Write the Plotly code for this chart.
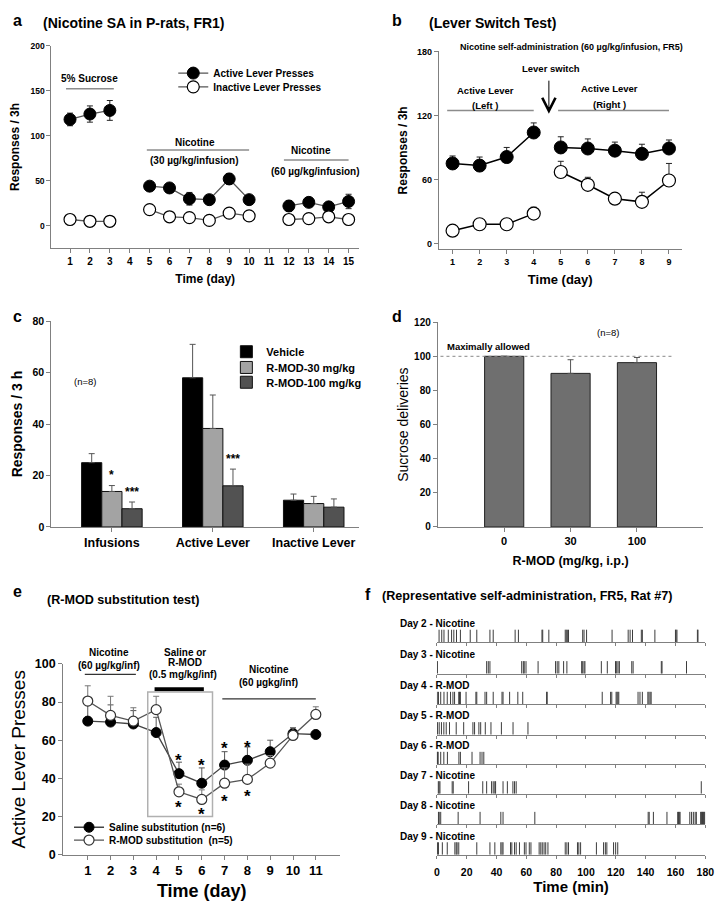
import plotly.graph_objects as go

W, H = 724, 906
OFF = 8  # page body margin: figure is drawn 8 px right/down on screen
FONT = "Liberation Sans, Arial, sans-serif"

# ---------------- data ----------------
# panel a
days_a = list(range(1, 16))
active_a = [118, 124, 128, None, 44, 42, 30, 29, 52, 29, None, 22, 26, 21, 27]
active_a_err = [7, 9, 11, 0, 3, 3, 7, 3, 6, 3, 0, 6, 3, 3, 8]
inactive_a = [7, 5, 5, None, 18, 10, 9, 6, 14, 11, None, 7, 8, 10, 7]
inactive_a_err = [2, 1, 1, 0, 2, 2, 2, 1, 4, 2, 0, 1, 2, 2, 2]

# panel b
days_b = [1, 2, 3, 4, 5, 6, 7, 8, 9]
active_b = [75, 73, 81, 104, 90, 89, 87, 84, 89]
active_b_err = [7, 8, 9, 9, 10, 9, 8, 9, 8]
inactive_b = [12, 18, 18, 28, 67, 55, 42, 39, 59]
inactive_b_err = [2, 2, 2, 6, 10, 7, 3, 9, 16]

# panel c
cats_c = ["Infusions", "Active Lever", "Inactive Lever"]
vehicle_c = [25, 58, 10.4]
vehicle_c_err = [3.5, 13, 2.4]
rmod30_c = [13.8, 38.3, 9.1]
rmod30_c_err = [2.3, 13, 2.8]
rmod100_c = [7.1, 16, 7.7]
rmod100_c_err = [2.6, 6.5, 3.2]

# panel d
cats_d = ["0", "30", "100"]
sucrose_d = [100, 90, 96.3]
sucrose_d_err = [0, 8, 3]

# panel e
days_e = list(range(1, 12))
saline_e = [70, 69.5, 68.5, 64, 42.5, 37.5, 47, 49.5, 54, 63.5, 63]
saline_e_err = [10, 9, 7, 8, 6, 8, 7, 7, 6, 3, 0]
rmod_e = [80.5, 73, 70, 76, 33, 29, 37.5, 39.5, 48, 62.5, 73.5]
rmod_e_err = [8, 10, 7, 7, 4, 5, 8, 8, 4, 4, 4]

# panel f (event times, min)
f_labels = ["Day 2 - Nicotine", "Day 3 - Nicotine", "Day 4 - R-MOD", "Day 5 - R-MOD",
            "Day 6 - R-MOD", "Day 7 - Nicotine", "Day 8 - Nicotine", "Day 9 - Nicotine"]
f_events = [
    [1.5, 3.3, 4.8, 7.7, 9.9, 11.4, 13.2, 15.8, 22.4, 26.8, 35.6, 37.8, 52.5, 54.7, 70.5, 71.0,
     75.1, 86.1, 86.8, 87.5, 88.3, 97.8, 98.7, 100.4, 117.5, 128.3, 129.6, 131.2, 137.1, 137.8,
     146.2, 160.0, 160.4, 161.0, 174.7, 175.1],
    [0.4, 33.4, 34.5, 35.6, 56.9, 58.0, 58.6, 59.8, 67.9, 79.6, 80.7, 81.8, 85.0, 87.2, 97.1,
     97.8, 98.7, 99.3, 110.3, 114.3, 119.8, 120.6, 121.5, 122.4, 130.7, 131.6, 150.5, 151.0, 167.4],
    [0.3, 1.1, 2.6, 4.8, 7.0, 9.2, 10.8, 11.9, 14.7, 15.2, 15.8, 19.6, 26.2, 26.8, 32.3, 33.4,
     37.8, 43.7, 44.4, 48.8, 54.3, 57.6, 73.6, 74.0, 110.9, 116.5, 117.3, 120.2, 120.8, 121.4,
     122.0, 134.9, 136.2, 137.8, 141.5, 142.2, 143.0, 143.7],
    [0.5, 1.6, 3.1, 4.7, 6.3, 8.5, 13.0, 18.0, 24.2, 25.3, 28.2, 29.4, 32.5, 36.3, 43.3, 51.1, 61.1],
    [0.1, 0.5, 0.9, 2.6, 4.7, 7.1, 14.8, 15.8, 23.6, 29.0, 30.3, 31.5],
    [1.0, 1.5, 2.1, 10.3, 11.0, 21.3, 30.8, 33.4, 36.7, 37.8, 38.9, 39.4, 44.4, 47.3, 51.0,
     52.1, 53.2, 177.3],
    [1.1, 1.6, 2.6, 14.3, 29.0, 42.9, 44.4, 65.7, 141.7, 142.4, 145.2, 154.3, 161.5, 162.0,
     162.6, 163.1, 169.6, 170.8, 172.0, 173.2, 174.0, 176.9, 177.3, 177.7, 178.1, 178.5, 178.9,
     179.3, 179.7],
    [0.4, 1.1, 3.7, 7.0, 12.1, 13.0, 13.6, 14.7, 26.8, 35.6, 38.9, 42.9, 43.7, 44.4, 49.4, 50.3,
     52.1, 53.2, 55.4, 58.7, 59.8, 62.0, 63.1, 68.6, 69.7, 70.7, 71.9, 73.0, 74.5, 86.1, 87.2,
     88.3, 94.3, 95.2, 96.4, 107.0, 111.8, 113.0, 114.0, 118.5, 119.9, 121.3],
]
f_ticks = list(range(0, 181, 20))


# ---------------- helpers (screen pixel -> paper) ----------------
def dx(a, b):
    return [(a - OFF) / W, (b - OFF) / W]


def dy(top, bot):
    return [1 - (bot - OFF) / H, 1 - (top - OFF) / H]


def px(x):
    return (x - OFF) / W


def py(y):
    return 1 - (y - OFF) / H


def fnt(size, bold=True, color="black"):
    return dict(family=FONT, size=size, color=color, weight="bold" if bold else "normal")


AXC = "#808080"


def ax(domain, anchor, rng, tickvals=None, tfs=10, title=None, tsize=12, tbold=True,
       standoff=6, ticklen=4, showticklabels=True, ctype=None, tls=None):
    d = dict(domain=domain, anchor=anchor, range=rng, showline=True, linecolor=AXC, linewidth=1,
             ticks="outside", tickcolor=AXC, ticklen=ticklen, showgrid=False, zeroline=False,
             tickfont=fnt(tfs), showticklabels=showticklabels, fixedrange=True)
    if tickvals is not None:
        d["tickvals"] = tickvals
    if ctype:
        d["type"] = ctype
    if tls is not None:
        d["ticklabelstandoff"] = tls
    if title:
        d["title"] = dict(text=title, font=fnt(tsize, tbold), standoff=standoff)
    return d


fig = go.Figure()

# ---------------- panel a ----------------
fig.add_trace(go.Scatter(
    x=days_a, y=active_a, mode="lines+markers", name="Active Lever Presses",
    line=dict(color="#555", width=1.3),
    marker=dict(size=12, color="black", line=dict(color="black", width=1)),
    error_y=dict(type="data", array=active_a_err, color="#222", thickness=1, width=3),
    xaxis="x", yaxis="y", legend="legend"))
fig.add_trace(go.Scatter(
    x=days_a, y=inactive_a, mode="lines+markers", name="Inactive Lever Presses",
    line=dict(color="#555", width=1.3),
    marker=dict(size=12, color="white", line=dict(color="black", width=1.2)),
    error_y=dict(type="data", array=inactive_a_err, color="#222", thickness=1, width=3),
    xaxis="x", yaxis="y", legend="legend4"))

# ---------------- panel b ----------------
for sl in (slice(0, 4), slice(4, 9)):
    fig.add_trace(go.Scatter(
        x=days_b[sl], y=active_b[sl], mode="lines+markers", showlegend=False,
        line=dict(color="black", width=1.5),
        marker=dict(size=13, color="black", line=dict(color="black", width=1)),
        error_y=dict(type="data", symmetric=False, array=active_b_err[sl],
                     arrayminus=[0] * len(active_b_err[sl]), color="#222", thickness=1, width=3),
        xaxis="x2", yaxis="y2"))
    fig.add_trace(go.Scatter(
        x=days_b[sl], y=inactive_b[sl], mode="lines+markers", showlegend=False,
        line=dict(color="black", width=1.5),
        marker=dict(size=13, color="white", line=dict(color="black", width=1.2)),
        error_y=dict(type="data", symmetric=False, array=inactive_b_err[sl],
                     arrayminus=[0] * len(inactive_b_err[sl]), color="#222", thickness=1, width=3),
        xaxis="x2", yaxis="y2"))

# ---------------- panel c ----------------
for name, vals, errs, col, lg in (("Vehicle", vehicle_c, vehicle_c_err, "#000000", "legend2"),
                                  ("R-MOD-30 mg/kg", rmod30_c, rmod30_c_err, "#a3a3a3", "legend5"),
                                  ("R-MOD-100 mg/kg", rmod100_c, rmod100_c_err, "#525252", "legend6")):
    fig.add_trace(go.Bar(
        x=cats_c, y=vals, name=name, marker=dict(color=col, line=dict(color="#111", width=1)),
        error_y=dict(type="data", symmetric=False, array=errs, arrayminus=[0] * len(errs),
                     color="#555", thickness=1, width=3),
        xaxis="x3", yaxis="y3", legend=lg))

# ---------------- panel d ----------------
fig.add_trace(go.Bar(
    x=cats_d, y=sucrose_d, showlegend=False, width=0.59,
    marker=dict(color="#6f6f6f", line=dict(color="#222", width=1)),
    error_y=dict(type="data", symmetric=False, array=sucrose_d_err, arrayminus=[0] * 3,
                 color="#555", thickness=1, width=3),
    xaxis="x4", yaxis="y4"))

# ---------------- panel e ----------------
fig.add_trace(go.Scatter(
    x=days_e, y=saline_e, mode="lines+markers", name="Saline substitution (n=6)",
    line=dict(color="#444", width=1.3),
    marker=dict(size=10, color="black", line=dict(color="black", width=1)),
    error_y=dict(type="data", symmetric=False, array=saline_e_err, arrayminus=[0] * 11,
                 color="#555", thickness=1, width=3),
    xaxis="x5", yaxis="y5", legend="legend3"))
fig.add_trace(go.Scatter(
    x=days_e, y=rmod_e, mode="lines+markers", name="R-MOD substitution  (n=5)",
    line=dict(color="#555", width=1.3),
    marker=dict(size=10, color="white", line=dict(color="#333", width=1.2)),
    error_y=dict(type="data", symmetric=False, array=rmod_e_err, arrayminus=[0] * 11,
                 color="#777", thickness=1, width=3),
    xaxis="x5", yaxis="y5", legend="legend7"))

# ---------------- panel f ----------------
f_base = [645, 677, 708, 739, 769, 799, 830, 861]
for i, ev in enumerate(f_events):
    xs, ys = [], []
    for t in ev:
        xs += [t, t, None]
        ys += [0, 1, None]
    k = 6 + i
    fig.add_trace(go.Scatter(x=xs, y=ys, mode="lines", showlegend=False,
                             line=dict(color="#3c3c3c", width=1),
                             xaxis=f"x{k}", yaxis=f"y{k}", hoverinfo="skip"))

# ---------------- layout ----------------
layout = dict(
    width=W, height=H, margin=dict(l=0, r=0, t=0, b=0), autosize=False,
    paper_bgcolor="white", plot_bgcolor="white",
    barmode="group", bargap=0.4, bargroupgap=0,
    font=dict(family=FONT, color="black"),
    showlegend=True,
)

# a
layout["xaxis"] = ax(dx(49, 362), "y", [0.06, 15.53], days_a, tfs=10, title="Time (day)",
                     tsize=12, standoff=8)
layout["yaxis"] = ax(dy(39, 245), "x", [-25, 200], [0, 50, 100, 150, 200], tfs=8.5,
                     title="Responses / 3h", tsize=12, standoff=10)
# b
layout["xaxis2"] = ax(dx(443, 690), "y2", [0.49, 9.47], days_b, tfs=9, title="Time (day)",
                      tsize=13, standoff=8)
layout["yaxis2"] = ax(dy(45, 246), "x2", [-5.5, 180], [0, 60, 120, 180], tfs=9,
                      title="Responses / 3h", tsize=12, standoff=6)
# c
layout["xaxis3"] = ax(dx(49, 362), "y3", [-0.6, 2.45], None, tfs=12.5, ctype="category")
layout["yaxis3"] = ax(dy(319, 528), "x3", [0, 80], [0, 20, 40, 60, 80], tfs=10.5,
                      title="Responses / 3 h", tsize=14, standoff=6)
# d
layout["xaxis4"] = ax(dx(442, 712), "y4", [-1, 3], None, tfs=11, ctype="category",
                      title="R-MOD (mg/kg, i.p.)", tsize=12.5, standoff=10)
layout["yaxis4"] = ax(dy(320, 528), "x4", [0, 120], [0, 20, 40, 60, 80, 100, 120], tfs=10,
                      title="Sucrose deliveries", tsize=14, tbold=False, standoff=2)
# e
layout["xaxis5"] = ax(dx(61, 343), "y5", [-0.08, 12.08], days_e, tfs=13, title="Time (day)",
                      tsize=18, standoff=6)
layout["yaxis5"] = ax(dy(667, 861), "x5", [0, 100], [0, 20, 40, 60, 80, 100], tfs=12.5,
                      title="Active Lever Presses", tsize=19, tbold=False, standoff=4)
# f rows
for i, base in enumerate(f_base):
    k = 6 + i
    last = i == len(f_base) - 1
    layout[f"xaxis{k}"] = ax(dx(441, 714), f"y{k}", [0, 180], f_ticks, tfs=10.5, ticklen=3,
                             showticklabels=last, tls=5 if last else None,
                             title="Time (min)" if last else None, tsize=15, standoff=3)
    layout[f"yaxis{k}"] = dict(domain=dy(base - 13, base), anchor=f"x{k}", range=[0, 1.02],
                               visible=False, fixedrange=True)


# legends: one entry per legend so every row sits exactly where the original has it
def leg(x, y, size):
    return dict(x=px(x), y=py(y), xanchor="left", yanchor="middle", bgcolor="rgba(0,0,0,0)",
                font=fnt(size), tracegroupgap=0, itemwidth=30)


layout["legend"] = leg(173, 67, 10)
layout["legend4"] = leg(173, 81, 10)
layout["legend2"] = leg(227, 350, 11)
layout["legend5"] = leg(227, 366, 11)
layout["legend6"] = leg(227, 381, 11)
layout["legend3"] = leg(67, 833, 10)
layout["legend7"] = leg(67, 846, 10)

fig.update_layout(**layout)


# ---------------- annotations ----------------
def txt(x, y, s, size=10, bold=True, xanchor="center"):
    fig.add_annotation(x=px(x), y=py(y), xref="paper", yref="paper", text=s, showarrow=False,
                       font=fnt(size, bold), xanchor=xanchor, yanchor="middle")


# panel letters / titles
txt(8, 14, "a", 16, xanchor="left")
txt(38, 16, "(Nicotine SA in P-rats, FR1)", 14, xanchor="left")
txt(393, 14, "b", 16, xanchor="left")
txt(431, 16, "(Lever Switch Test)", 14, xanchor="left")
txt(8, 314, "c", 16, xanchor="left")
txt(393, 314, "d", 16, xanchor="left")
txt(8, 594, "e", 16, xanchor="left")
txt(43, 602, "(R-MOD substitution test)", 12.6, xanchor="left")
txt(366, 597, "f", 16, xanchor="left")
txt(383, 598, "(Representative self-administration, FR5, Rat #7)", 12.6, xanchor="left")

# panel a annotations
txt(88, 72, "5% Sucrose", 10)
txt(195, 137, "Nicotine", 10)
txt(195, 156, "(30 µg/kg/infusion)", 10)
txt(313, 146, "Nicotine", 10)
txt(318, 167, "(60 µg/kg/infusion)", 10)
for x0, x1, yv in ((0.8, 3.2, 152), (4.86, 10.0, 84), (11.75, 15.0, 73)):
    fig.add_shape(type="line", xref="x", yref="y", x0=x0, x1=x1, y0=yv, y1=yv,
                  line=dict(color="#8c8c8c", width=1.5))

# panel b annotations
txt(578, 40, "Nicotine self-administration (60 µg/kg/infusion, FR5)", 9)
txt(557, 62, "Lever switch", 9.5)
txt(490, 85, "Active Lever", 9.5)
txt(490, 100, "(Left )", 9.5)
txt(617, 83, "Active Lever", 9.5)
txt(617, 99, "(Right )", 9.5)
for x0, x1 in ((0.8, 4.0), (4.9, 9.0)):
    fig.add_shape(type="line", xref="x2", yref="y2", x0=x0, x1=x1, y0=124.6, y1=124.6,
                  line=dict(color="#8c8c8c", width=1.5))
fig.add_annotation(x=4.56, y=121.5, xref="x2", yref="y2", ax=4.56, ay=154, axref="x2",
                   ayref="y2", showarrow=True, arrowhead=5, arrowsize=2.6, arrowwidth=1,
                   arrowcolor="black", text="")

# panel c annotations
txt(83, 380, "(n=8)", 9.5, bold=False)
for xv, yv, s in ((0, 16.6, "*"), (0.2, 10.2, "***"), (1.2, 23.0, "***")):
    fig.add_annotation(x=xv, y=yv, xref="x3", yref="y3", text=s, showarrow=False,
                       font=fnt(12), yanchor="bottom", xanchor="center")

# panel d annotations
txt(449, 345, "Maximally allowed", 9.5, xanchor="left")
txt(615, 330, "(n=8)", 9.5, bold=False)
fig.add_shape(type="line", xref="x4", yref="y4", x0=-0.96, x1=2.53, y0=100, y1=100,
              line=dict(color="#888", width=1, dash="dot"))

# panel e annotations
txt(108, 656, "Nicotine", 10)
txt(108, 669, "(60 µg/kg/inf)", 10)
txt(185, 655, "Saline or", 10)
txt(185, 666, "R-MOD", 10)
txt(183, 678, "(0.5 mg/kg/inf)", 10)
txt(270, 673, "Nicotine", 10)
txt(270, 686, "(60 µgkg/inf)", 10)
fig.add_shape(type="line", xref="x5", yref="y5", x0=0.87, x1=3.11, y0=94.5, y1=94.5,
              line=dict(color="#333", width=1.2))
fig.add_shape(type="line", xref="x5", yref="y5", x0=3.93, x1=6.09, y0=86.7, y1=86.7,
              line=dict(color="black", width=4))
fig.add_shape(type="line", xref="x5", yref="y5", x0=6.9, x1=11.0, y0=81.6, y1=81.6,
              line=dict(color="#333", width=1.2))
fig.add_shape(type="rect", xref="x5", yref="y5", x0=3.63, x1=6.47, y0=20.1, y1=85.2,
              line=dict(color="#b0b0b0", width=1.5))
for xv, yv in ((5, 52), (5, 27.4), (6, 49.6), (6, 23.7), (7, 58.3), (7, 30.5), (8, 58.9), (8, 33)):
    fig.add_annotation(x=xv, y=yv, xref="x5", yref="y5", text="*", showarrow=False,
                       font=fnt(17), yanchor="middle", xanchor="center", yshift=-5)

# panel f labels
for lab, base in zip(f_labels, f_base):
    txt(402, base - 19, lab, 10, xanchor="left")

fig.write_html("out.html")
